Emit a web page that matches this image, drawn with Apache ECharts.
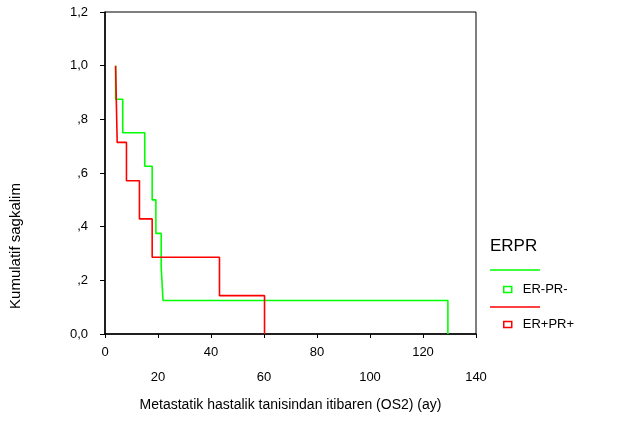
<!DOCTYPE html>
<html>
<head>
<meta charset="utf-8">
<script src="https://cdn.jsdelivr.net/npm/echarts@6/dist/echarts.min.js"></script>
<style>
  html, body { margin: 0; padding: 0; background: #fff; }
  #chart { width: 617px; height: 442px; }
</style>
</head>
<body>
<div id="chart"></div>
<script>
// Kaplan-Meier steps: time (months) and survival after the event
const greenTimes = [4.0, 4.0, 6.7, 15.0, 17.8, 19.2, 21.2, 21.9, 129.4]
const greenSurv = [1.0, 0.875, 0.75, 0.625, 0.5, 0.375, 0.25, 0.125, 0]
const redTimes = [4.0, 4.6, 8.1, 13.0, 17.8, 43.2, 60.2]
const redSurv = [1.0, 0.714, 0.571, 0.429, 0.286, 0.143, 0]

const groupNames = ['ER-PR-', 'ER+PR+']
const groupColors = ['#00ff00', '#ff0000']

const font = 'Liberation Sans, Arial, sans-serif'

function pairs(xs, ys) {
    return xs.map((x, i) => [x, ys[i]])
}

const chart = echarts.init(document.getElementById('chart'))
const option = {
    animation: false,
    grid: {
        left: 105, right: 141, top: 12, bottom: 108,
        show: true, borderColor: '#000', borderWidth: 1, backgroundColor: '#fff'
    },
    xAxis: {
        type: 'value',
        min: 0, max: 140, interval: 20,
        splitLine: {show: false},
        axisLine: {lineStyle: {color: '#000', width: 1.5}},
        axisTick: {length: 4, lineStyle: {color: '#000'}},
        axisLabel: {
            color: '#000', fontSize: 13, fontFamily: font, margin: 6, lineHeight: 25,
            formatter: v => (v / 20) % 2 === 1 ? '\n' + v : '' + v
        },
        name: 'Metastatik hastalik tanisindan itibaren (OS2) (ay)',
        nameLocation: 'middle',
        nameGap: 64,
        nameTextStyle: {color: '#000', fontSize: 14, fontFamily: font}
    },
    yAxis: {
        type: 'value',
        min: 0, max: 1.2, interval: 0.2,
        splitLine: {show: false},
        axisLine: {lineStyle: {color: '#000', width: 1.5}},
        axisTick: {length: 5, lineStyle: {color: '#000'}},
        axisLabel: {
            color: '#000', fontSize: 13, fontFamily: font, margin: 17,
            formatter: v => {
                if (v === 0) return '0,0'
                if (v >= 1) return v.toFixed(1).replace('.', ',')
                return ',' + Math.round(v * 10)
            }
        }
    },
    legend: {
        orient: 'vertical',
        left: 498, top: 278,
        itemWidth: 8, itemHeight: 6, itemGap: 22,
        textStyle: {color: '#000', fontSize: 13, fontFamily: font, padding: [0, 0, 0, 6]},
        data: groupNames.map((n, i) => ({
            name: n, icon: 'rect',
            itemStyle: {color: '#fff', borderColor: groupColors[i], borderWidth: 1.5}
        }))
    },
    graphic: [
        {type: 'text', left: 490, top: 238,
            style: {text: 'ERPR', fill: '#000', font: '17px ' + font}},
        {type: 'line', shape: {x1: 490, y1: 270, x2: 540, y2: 270},
            style: {stroke: groupColors[0], lineWidth: 1.5}},
        {type: 'line', shape: {x1: 490, y1: 307, x2: 540, y2: 307},
            style: {stroke: groupColors[1], lineWidth: 1.5}},
        {type: 'text', x: 16, y: 246, rotation: Math.PI / 2,
            style: {text: 'Kumulatif sagkalim', fill: '#000', font: '15px ' + font,
                align: 'center', verticalAlign: 'middle'}}
    ],
    series: [
        {
            name: groupNames[0], type: 'line', step: 'end', symbol: 'none',
            data: pairs(greenTimes, greenSurv),
            lineStyle: {color: groupColors[0], width: 1.6},
            itemStyle: {color: groupColors[0]}
        },
        {
            name: groupNames[1], type: 'line', step: 'end', symbol: 'none',
            data: pairs(redTimes, redSurv),
            lineStyle: {color: groupColors[1], width: 1.6},
            itemStyle: {color: groupColors[1]}
        }
    ]
}
chart.setOption(option)
</script>
</body>
</html>
